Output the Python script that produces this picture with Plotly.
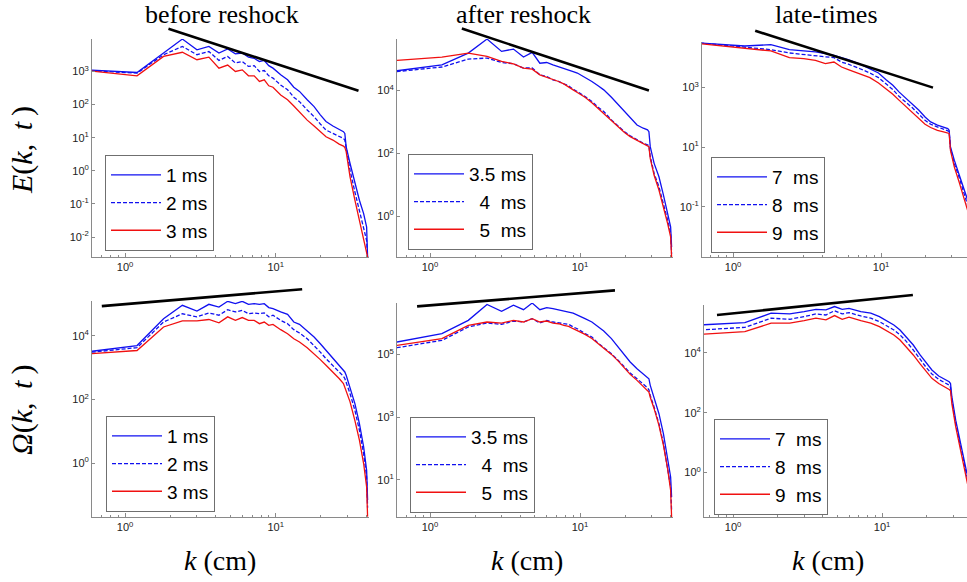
import plotly.graph_objects as go

W, H = 967, 582

# ---------------- data ----------------
K_A = [0.6, 1.2, 1.8, 2.4, 3.0, 3.6, 4.2, 4.8, 5.4, 6.0, 6.6, 7.2, 7.8, 8.4, 9.0, 9.6,
       10.8, 12.0, 13.2, 14.4, 16.2, 18.0, 19.8, 21.6, 24.0, 26.4, 28.2, 28.8, 29.4,
       31.2, 33.6, 36.0, 38.4, 40.2, 40.8]
K_B = [0.6, 1.2, 1.8, 2.4, 3.0, 3.6, 4.2, 4.8, 5.4, 6.0, 7.2, 8.4, 9.6, 10.8, 12.0,
       13.2, 14.4, 16.2, 18.0, 19.8, 21.6, 24.0, 26.4, 28.2, 28.8, 29.4, 31.2, 33.6,
       36.0, 38.4]

# Energy spectra E(k,t)
E_1ms = [1.1e3, 9.3e2, 3.6e3, 9.5e3, 4.5e3, 5.7e3, 3.6e3, 4.8e3, 3.4e3, 3.6e3, 2.7e3, 2.5e3,
         2.0e3, 2.15e3, 1.5e3, 1.26e3, 7.9e2, 5.6e2, 3.35e2, 2.5e2, 1.4e2, 87, 49, 31, 22.6,
         17.9, 15.2, 13.5, 5.3, 1.67, 0.41, 0.13, 0.051, 0.020, 0.0025]
E_2ms = [1.05e3, 8.9e2, 3.2e3, 5.7e3, 3.2e3, 4.0e3, 2.15e3, 2.85e3, 1.8e3, 2.0e3, 1.42e3, 1.5e3,
         1.0e3, 1.07e3, 7.4e2, 6.3e2, 3.9e2, 2.8e2, 1.67e2, 1.23e2, 69, 43, 26, 17, 13.5,
         10.7, 9.5, 8.5, 4.75, 1.05, 0.23, 0.064, 0.020, 0.0079, 0.0025]
E_3ms = [1.02e3, 7.4e2, 2.85e3, 3.8e3, 2.26e3, 2.7e3, 1.26e3, 1.56e3, 1.0e3, 1.12e3, 7.4e2, 7.4e2,
         5.0e2, 5.6e2, 3.7e2, 3.35e2, 1.96e2, 1.4e2, 91, 61, 34, 22.6, 15.2, 10.7, 8.5,
         6.4, 5.6, 5.1, 3.8, 0.66, 0.13, 0.032, 0.010, 0.0039, 0.0025]
E_35ms = [4.25e4, 6.6e4, 1.55e5, 4.35e5, 1.76e5, 2.08e5, 1.16e5, 1.63e5, 7.4e4, 7.8e4, 6.6e4, 5.8e4,
          5.2e4, 4.6e4, 4.0e4, 3.6e4, 2.67e4, 1.94e4, 1.41e4, 1.05e4, 6.1e3, 3.5e3, 2.14e3,
          1.31e3, 8.0e2, 6.3e2, 5.6e2, 4.9e2, 1.63e2, 48, 18, 4.7, 1.2, 0.46, 0.105]
E_4ms = [4.0e4, 5.6e4, 1.0e5, 1.08e5, 7.8e4, 7.1e4, 5.2e4, 5.2e4, 3.16e4, 2.8e4, 2.19e4, 1.94e4,
         1.63e4, 1.41e4, 1.1e4, 9.3e3, 6.4e3, 4.5e3, 2.94e3, 2.14e3, 1.16e3, 7.1e2, 4.9e2,
         3.6e2, 2.67e2, 2.09e2, 1.85e2, 1.76e2, 78, 23, 8.6, 2.5, 0.74, 0.28, 0.064]
E_5ms = [9.1e4, 1.16e5, 1.55e5, 1.22e5, 8.4e4, 7.1e4, 5.2e4, 4.8e4, 3.16e4, 2.67e4, 2.19e4, 1.94e4,
         1.63e4, 1.34e4, 1.05e4, 8.6e3, 6.1e3, 4.1e3, 2.73e3, 1.89e3, 1.1e3, 6.8e2, 4.6e2,
         3.4e2, 2.54e2, 1.99e2, 1.71e2, 1.63e2, 69, 20, 6.8, 2.0, 0.58, 0.22, 0.05]
E_7ms = [3.14e4, 2.49e4, 2.76e4, 1.88e4, 1.7e4, 1.57e4, 1.38e4, 1.21e4, 1.01e4, 8.7e3, 6.1e3, 4.3e3,
         3.1e3, 1.85e3, 1.2e3, 7.2e2, 4.9e2, 2.9e2, 1.74e2, 1.04e2, 71, 55, 46, 42, 37, 10.3,
         3.7, 1.3, 0.47, 0.17]
E_8ms = [3.14e4, 2.19e4, 1.88e4, 1.45e4, 1.31e4, 1.21e4, 1.07e4, 1.01e4, 7.2e3, 6.1e3, 4.3e3, 3.1e3,
         2.16e3, 1.36e3, 8.6e2, 5.1e2, 3.6e2, 2.14e2, 1.28e2, 80, 59, 48, 42, 37, 34, 9.0,
         2.8, 1.0, 0.32, 0.114]
E_9ms = [2.98e4, 2.03e4, 1.7e4, 1.01e4, 9.4e3, 8.2e3, 6.4e3, 7.2e3, 4.9e3, 4.0e3, 2.94e3, 2.16e3,
         1.43e3, 9.3e2, 6.0e2, 3.8e2, 2.56e2, 1.53e2, 91, 59, 46, 37, 33, 30, 29, 7.9, 2.2,
         0.69, 0.22, 0.077]

# Enstrophy spectra Omega(k,t)
W_1ms = [3.3e3, 5.0e3, 3.5e4, 9.2e4, 6.1e4, 9.9e4, 8.1e4, 1.23e5, 1.04e5, 1.23e5, 9.9e4, 1.04e5,
         9.9e4, 1.04e5, 7.8e4, 7.2e4, 5.7e4, 4.8e4, 2.75e4, 2.32e4, 1.43e4, 9.3e3, 5.7e3,
         3.5e3, 2.09e3, 1.2e3, 8.3e2, 7.4e2, 5.8e2, 2.5e2, 75, 17.6, 3.3, 0.6, 0.07]
W_2ms = [3.1e3, 4.3e3, 2.75e4, 5.0e4, 4.0e4, 5.3e4, 4.5e4, 6.7e4, 5.7e4, 6.4e4, 5.0e4, 5.3e4,
         5.0e4, 5.3e4, 4.0e4, 4.5e4, 3.1e4, 2.44e4, 1.58e4, 1.24e4, 8.2e3, 5.1e3, 3.1e3,
         1.94e3, 1.2e3, 7.4e2, 5.4e2, 4.6e2, 3.6e2, 1.54e2, 46, 10.9, 2.0, 0.37, 0.04]
W_3ms = [2.8e3, 3.5e3, 1.92e4, 3.0e4, 3.0e4, 3.3e4, 2.6e4, 4.0e4, 3.1e4, 3.8e4, 3.1e4, 3.1e4,
         2.44e4, 2.75e4, 2.16e4, 2.32e4, 1.58e4, 1.18e4, 8.2e3, 6.5e3, 4.3e3, 2.8e3, 1.81e3,
         1.2e3, 7.4e2, 4.6e2, 3.2e2, 2.5e2, 1.96e2, 85, 22, 5.3, 0.98, 0.18, 0.021]
W_35ms = [2.48e5, 4.6e5, 1.22e6, 3.9e6, 2.36e6, 3.7e6, 2.67e6, 4.35e6, 2.67e6, 3.1e6, 2.87e6, 2.67e6,
          2.42e6, 2.24e6, 2.08e6, 1.76e6, 1.38e6, 1.08e6, 7.5e5, 5.6e5, 3.2e5, 1.71e5, 1.0e5,
          5.7e4, 3.5e4, 2.42e4, 1.89e4, 1.67e4, 1.03e4, 4.3e3, 1.28e3, 2.9e2, 53, 12.2, 2.8]
W_4ms = [1.63e5, 2.8e5, 7.5e5, 1.0e6, 9.1e5, 1.16e6, 1.08e6, 1.38e6, 1.0e6, 1.22e6, 1.08e6, 1.0e6,
         9.5e5, 9.1e5, 7.5e5, 6.6e5, 4.6e5, 3.6e5, 2.3e5, 1.63e5, 1.05e5, 6.4e4, 3.9e4,
         2.54e4, 1.67e4, 1.16e4, 8.6e3, 7.4e3, 4.9e3, 2.08e3, 6.1e2, 1.41e2, 25, 5.8, 1.05]
W_5ms = [1.94e5, 3.2e5, 8.4e5, 1.08e6, 1.0e6, 1.22e6, 1.08e6, 1.38e6, 1.08e6, 1.16e6, 1.0e6, 9.5e5,
         8.4e5, 7.8e5, 6.6e5, 5.8e5, 4.35e5, 3.2e5, 2.19e5, 1.52e5, 1.0e5, 6.1e4, 3.75e4,
         2.3e4, 1.48e4, 9.5e3, 7.1e3, 6.3e3, 4.3e3, 1.85e3, 5.4e2, 1.25e2, 22, 4.6, 0.64]
W_7ms = [8.4e4, 1.0e5, 2.07e5, 1.96e5, 2.35e5, 2.8e5, 2.67e5, 3.45e5, 2.8e5, 3.0e5, 2.35e5, 2.07e5,
         1.6e5, 1.17e5, 8.4e4, 5.7e4, 3.6e4, 1.8e4, 8.4e3, 4.4e3, 2.64e3, 1.66e3, 1.28e3,
         1.07e3, 9.4e2, 3.4e2, 56, 9.3, 2.0, 0.43]
W_8ms = [5.7e4, 7.0e4, 1.41e5, 1.3e5, 1.6e5, 1.96e5, 1.81e5, 2.5e5, 1.96e5, 2.17e5, 1.68e5, 1.41e5,
         1.09e5, 7.8e4, 5.7e4, 3.9e4, 2.52e4, 1.23e4, 6.0e3, 3.2e3, 1.94e3, 1.28e3, 9.9e2,
         8.3e2, 6.9e2, 2.6e2, 43, 7.2, 1.55, 0.33]
W_9ms = [4.1e4, 5.0e4, 9.6e4, 9.6e4, 1.17e5, 1.41e5, 1.24e5, 1.73e5, 1.3e5, 1.52e5, 1.17e5, 9.6e4,
         7.4e4, 5.4e4, 3.9e4, 2.65e4, 1.67e4, 8.4e3, 4.2e3, 2.32e3, 1.39e3, 9.4e2, 7.3e2,
         5.9e2, 5.4e2, 2.0e2, 34, 5.6, 1.2, 0.23]

# power-law reference lines (end points)
REF_TL_K, REF_TL_V = [1.94, 35.5], [1.96e4, 2.6e2]
REF_TM_K, REF_TM_V = [1.63, 28.8], [9.4e5, 1.0e4]
REF_TR_K, REF_TR_V = [1.41, 22.4], [8.1e4, 1.0e3]
REF_BL_K, REF_BL_V = [0.70, 15.0], [8.7e4, 2.95e5]
REF_BM_K, REF_BM_V = [0.82, 17.1], [3.4e6, 1.1e7]
REF_BR_K, REF_BR_V = [0.78, 16.1], [1.8e5, 8.4e5]

NBSP = "\u00a0"
NAMES_BEFORE = ["1 ms", "2 ms", "3 ms"]
NAMES_AFTER = ["3.5 ms", NBSP * 2 + "4" + NBSP * 2 + "ms", NBSP * 2 + "5" + NBSP * 2 + "ms"]
NAMES_LATE = ["7" + NBSP * 2 + "ms", "8" + NBSP * 2 + "ms", "9" + NBSP * 2 + "ms"]

COL_TITLES = ["before reshock", "after reshock", "late-times"]
X_TICK_EXP = [0, 1]
MINOR_X = [0.6, 0.7, 0.8, 0.9, 2, 3, 4, 5, 6, 7, 8, 9, 20, 30, 40]

# ---------------- layout config ----------------
BLUE = "#1010f0"
RED = "#f01010"
STYLES = [dict(color=BLUE, width=1.3),
          dict(color=BLUE, width=1.3, dash="4px,2px"),
          dict(color=RED, width=1.3)]

panels = [
    dict(k=K_A, ys=[E_1ms, E_2ms, E_3ms], names=NAMES_BEFORE, rk=REF_TL_K, rv=REF_TL_V,
         xpx=(92, 369), ypx=(39, 257), xr=(-0.22, 1.62), yr=(-2.6, 3.98),
         yexp=[-2, -1, 0, 1, 2, 3], leg=(105, 155)),
    dict(k=K_A, ys=[E_35ms, E_4ms, E_5ms], names=NAMES_AFTER, rk=REF_TM_K, rv=REF_TM_V,
         xpx=(397, 673), ypx=(39, 257), xr=(-0.22, 1.62), yr=(-1.3, 5.64),
         yexp=[0, 2, 4], leg=(408, 154)),
    dict(k=K_B, ys=[E_7ms, E_8ms, E_9ms], names=NAMES_LATE, rk=REF_TR_K, rv=REF_TR_V,
         xpx=(702, 967), ypx=(42, 257), xr=(-0.21, 1.58), yr=(-2.68, 4.53),
         yexp=[-1, 1, 3], leg=(711, 157)),
    dict(k=K_A, ys=[W_1ms, W_2ms, W_3ms], names=NAMES_BEFORE, rk=REF_BL_K, rv=REF_BL_V,
         xpx=(92, 369), ypx=(301, 517), xr=(-0.22, 1.62), yr=(-1.69, 5.1),
         yexp=[0, 2, 4], leg=(106, 416)),
    dict(k=K_A, ys=[W_35ms, W_4ms, W_5ms], names=NAMES_AFTER, rk=REF_BM_K, rv=REF_BM_V,
         xpx=(397, 673), ypx=(303, 517), xr=(-0.22, 1.62), yr=(-0.19, 6.64),
         yexp=[1, 3, 5], leg=(410, 417)),
    dict(k=K_B, ys=[W_7ms, W_8ms, W_9ms], names=NAMES_LATE, rk=REF_BR_K, rv=REF_BR_V,
         xpx=(704, 967), ypx=(305, 517), xr=(-0.195, 1.57), yr=(-1.48, 5.59),
         yexp=[0, 2, 4], leg=(714, 419)),
]

AX_COLOR = "#8a8a8a"
TICK_FONT = dict(family="Liberation Sans, Arial, sans-serif", size=11, color="#222222")
EXT = 22  # px the overlay (reference-line) subplot extends above the axes


def px_x(p):
    return p / W


def px_y(p):
    return 1 - p / H


def sup(e):
    return "10<sup>%d</sup>" % e


fig = go.Figure()
layout = dict(
    width=W, height=H, margin=dict(l=0, r=0, t=0, b=0),
    paper_bgcolor="white", plot_bgcolor="rgba(0,0,0,0)", showlegend=True,
)

n = len(panels)
for i, p in enumerate(panels):
    idx = i + 1
    sfx = "" if idx == 1 else str(idx)
    ov = n + idx
    xname, yname, yovname = "x" + sfx, "y" + sfx, "y" + str(ov)
    legname = "legend" + sfx

    for j, (vals, name) in enumerate(zip(p["ys"], p["names"])):
        fig.add_trace(go.Scatter(x=p["k"], y=vals, mode="lines", name=name,
                                 line=STYLES[j], xaxis=xname, yaxis=yname,
                                 legend=legname, hoverinfo="skip"))
    fig.add_trace(go.Scatter(x=p["rk"], y=p["rv"], mode="lines", showlegend=False,
                             line=dict(color="black", width=2.6),
                             xaxis=xname, yaxis=yovname, hoverinfo="skip"))

    xd = [px_x(p["xpx"][0]), px_x(p["xpx"][1])]
    yd = [px_y(p["ypx"][1]), px_y(p["ypx"][0])]
    layout["xaxis" + sfx] = dict(
        type="log", domain=xd, range=list(p["xr"]), anchor=yname,
        showline=True, linecolor=AX_COLOR, linewidth=1, mirror=False,
        ticks="inside", ticklen=4, tickcolor=AX_COLOR, showgrid=False, zeroline=False,
        tickmode="array", tickvals=[10 ** e for e in X_TICK_EXP],
        ticktext=[sup(e) for e in X_TICK_EXP], tickfont=TICK_FONT,
        minor=dict(ticks="inside", ticklen=2, tickcolor=AX_COLOR,
                   tickmode="array", tickvals=MINOR_X, showgrid=False),
    )
    layout["yaxis" + sfx] = dict(
        type="log", domain=yd, range=list(p["yr"]), anchor=xname,
        showline=True, linecolor=AX_COLOR, linewidth=1, mirror=False,
        ticks="inside", ticklen=3, tickcolor=AX_COLOR, showgrid=False, zeroline=False,
        tickmode="array", tickvals=[10 ** e for e in p["yexp"]],
        ticktext=[sup(e) for e in p["yexp"]], tickfont=TICK_FONT,
    )
    pxdec = (p["ypx"][1] - p["ypx"][0]) / (p["yr"][1] - p["yr"][0])
    layout["yaxis" + str(ov)] = dict(
        type="log", domain=[yd[0], px_y(p["ypx"][0] - EXT)],
        range=[p["yr"][0], p["yr"][1] + EXT / pxdec], anchor=xname, visible=False,
        showgrid=False, zeroline=False,
    )
    layout[legname] = dict(
        x=px_x(p["leg"][0]), y=px_y(p["leg"][1]), xanchor="left", yanchor="top",
        bgcolor="white", bordercolor="#6f6f6f", borderwidth=1,
        font=dict(family="Liberation Sans, Arial, sans-serif", size=19, color="black"),
        itemwidth=50, entrywidth=100, tracegroupgap=0,
    )

SERIF = "Liberation Serif, Times New Roman, serif"
THIN = "\u2009"
annotations = []
col_centers = [222, 523, 826]
for c, t in zip(col_centers, COL_TITLES):
    annotations.append(dict(text=t, x=px_x(c), y=px_y(14), xref="paper", yref="paper",
                            showarrow=False, xanchor="center", yanchor="middle",
                            font=dict(family=SERIF, size=26, color="black")))
for c in [220, 527, 828]:
    annotations.append(dict(text="<i>k</i> (cm)", x=px_x(c), y=px_y(560), xref="paper",
                            yref="paper", showarrow=False, xanchor="center", yanchor="middle",
                            font=dict(family=SERIF, size=28, color="black")))
annotations.append(dict(text="<i>E</i>(<i>k</i>," + THIN + " <i>t</i>" + THIN + ")",
                        x=px_x(22), y=px_y(150),
                        xref="paper", yref="paper", showarrow=False, textangle=-90,
                        xanchor="center", yanchor="middle",
                        font=dict(family=SERIF, size=30, color="black")))
annotations.append(dict(text="<i>Ω</i>(<i>k</i>," + THIN + " <i>t</i>" + THIN + ")",
                        x=px_x(22), y=px_y(410),
                        xref="paper", yref="paper", showarrow=False, textangle=-90,
                        xanchor="center", yanchor="middle",
                        font=dict(family=SERIF, size=30, color="black")))
layout["annotations"] = annotations

fig.update_layout(**layout)
fig.write_html("out.html")
